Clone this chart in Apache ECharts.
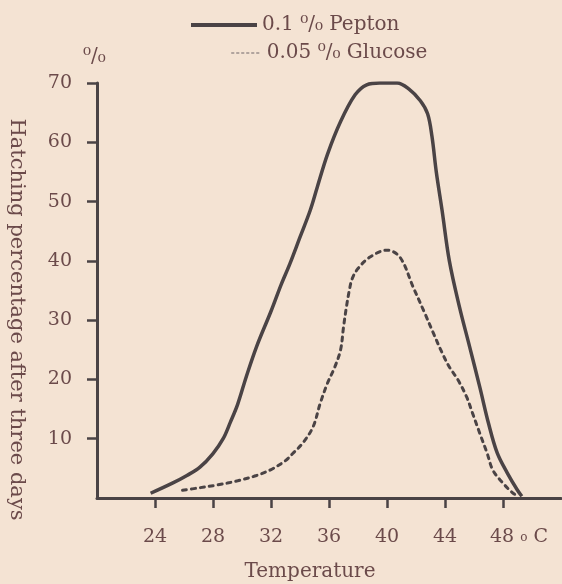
<!DOCTYPE html>
<html>
<head>
<meta charset="utf-8">
<script src="https://cdn.jsdelivr.net/npm/echarts@6/dist/echarts.min.js"></script>
<style>
  html, body { margin: 0; padding: 0; background: #f4e3d3; }
  #chart { width: 562px; height: 584px; }
</style>
</head>
<body>
<div id="chart"></div>
<script>
// temperature (°C) / hatching %
let peptonTemp = [23.7, 25.2, 26.2, 27.1, 28, 28.7, 29.2, 29.7, 30.3, 31, 32, 32.7, 33.3, 34, 34.7, 35.2, 35.9, 36.8, 37.8, 38.6, 39.5, 40.7, 41.5, 42.3, 42.8, 43.1, 43.4, 43.8, 44.3, 45, 45.7, 46.4, 47, 47.6, 48.3, 49, 49.3]
let peptonVals = [0.8, 2.5, 3.8, 5.2, 7.5, 10, 12.8, 15.8, 20.5, 25.5, 31.5, 36, 39.5, 44, 48.5, 52.5, 58, 63.5, 68, 69.7, 70, 70, 69, 67, 64.8, 61, 55, 48.5, 40, 32.2, 25.5, 18.7, 12.6, 7.6, 4.2, 1.3, 0.3]
let glucoseTemp = [25.9, 27, 28.3, 29.7, 31, 32, 33, 33.5, 34.2, 34.9, 35.4, 35.9, 36.4, 36.8, 37, 37.2, 37.4, 37.6, 38, 38.8, 40, 40.9, 41.8, 42.6, 43.2, 43.8, 44.3, 44.9, 45.5, 45.9, 46.4, 46.9, 47.3, 48, 48.7, 49.1]
let glucoseVals = [1.3, 1.7, 2.2, 2.9, 3.8, 4.8, 6.3, 7.5, 9.3, 12, 16, 19.4, 22.1, 25, 28.8, 32.2, 35, 37, 38.7, 40.6, 41.8, 40.6, 35.6, 31.2, 27.8, 24.5, 22.1, 19.9, 17, 14.3, 10.9, 7.6, 4.7, 2.5, 0.8, 0.3]
let xTicks = [24, 28, 32, 36, 40, 44, 48]
let yTicks = [10, 20, 30, 40, 50, 60, 70]
let peptonName = '0.1 ⁰/₀ Pepton'
let glucoseName = '0.05 ⁰/₀ Glucose'

const ink = '#4a4345'
const txt = '#6b4a4a'
const serif = '"DejaVu Serif", "Liberation Serif", serif'

let pair = (xs, ys) => xs.map((x, i) => [x, ys[i]])

let mychart = echarts.init(document.getElementById('chart'))
let options = {
    backgroundColor: '#f4e3d3',
    animation: false,
    title: {
        text: '⁰/₀',
        left: 78,
        top: 42,
        textStyle: { fontFamily: serif, fontSize: 20, fontWeight: 'normal', color: txt }
    },
    legend: [
        {
            data: [peptonName],
            left: 184,
            top: 10,
            itemWidth: 66,
            itemHeight: 10,
            itemStyle: { opacity: 0 },
            lineStyle: { width: 4, color: ink },
            textStyle: { fontFamily: serif, fontSize: 20, color: txt }
        },
        {
            data: [glucoseName],
            left: 226,
            top: 38,
            itemWidth: 30,
            itemHeight: 10,
            itemStyle: { opacity: 0 },
            lineStyle: { width: 1.5, type: [2, 3], color: '#9a8f8c' },
            textStyle: { fontFamily: serif, fontSize: 20, color: txt }
        }
    ],
    grid: { left: 97, right: 1, top: 83, bottom: 86, outerBoundsMode: 'none' },
    xAxis: {
        type: 'value',
        min: 20,
        max: 52,
        interval: 4,
        name: 'Temperature',
        nameLocation: 'middle',
        nameGap: 64,
        nameTextStyle: { fontFamily: serif, fontSize: 20, color: txt, padding: [0, 38, 0, 0] },
        splitLine: { show: false },
        axisLine: { lineStyle: { color: ink, width: 3 } },
        axisTick: { customValues: xTicks, length: 10, lineStyle: { color: ink, width: 2.5 } },
        axisLabel: {
            customValues: xTicks,
            margin: 30,
            fontFamily: serif,
            fontSize: 19,
            color: txt,
            formatter: (v) => v === 48 ? '{pad|}48 {deg|o} C' : String(v),
            rich: {
                pad: { width: 32 },
                deg: { fontSize: 12, fontFamily: serif, color: txt }
            }
        }
    },
    yAxis: {
        type: 'value',
        min: 0,
        max: 70,
        interval: 10,
        name: 'Hatching percentage after three days',
        nameLocation: 'middle',
        nameRotate: -90,
        nameGap: 70,
        nameTextStyle: { fontFamily: serif, fontSize: 21, color: txt, padding: [0, 0, 0, 58] },
        splitLine: { show: false },
        axisLine: { show: true, lineStyle: { color: ink, width: 3 } },
        axisTick: { show: true, customValues: yTicks, length: 10, lineStyle: { color: ink, width: 2.5 } },
        axisLabel: { customValues: yTicks, margin: 25, fontFamily: serif, fontSize: 19, color: txt }
    },
    series: [
        {
            name: peptonName,
            type: 'line',
            data: pair(peptonTemp, peptonVals),
            symbol: 'none',
            smooth: 0.35,
            itemStyle: { color: ink },
            lineStyle: { color: ink, width: 3.5 }
        },
        {
            name: glucoseName,
            type: 'line',
            data: pair(glucoseTemp, glucoseVals),
            symbol: 'none',
            smooth: 0.35,
            itemStyle: { color: ink },
            lineStyle: { color: ink, width: 3, type: [4, 5], cap: 'round' }
        }
    ]
}
mychart.setOption(options)
</script>
</body>
</html>
